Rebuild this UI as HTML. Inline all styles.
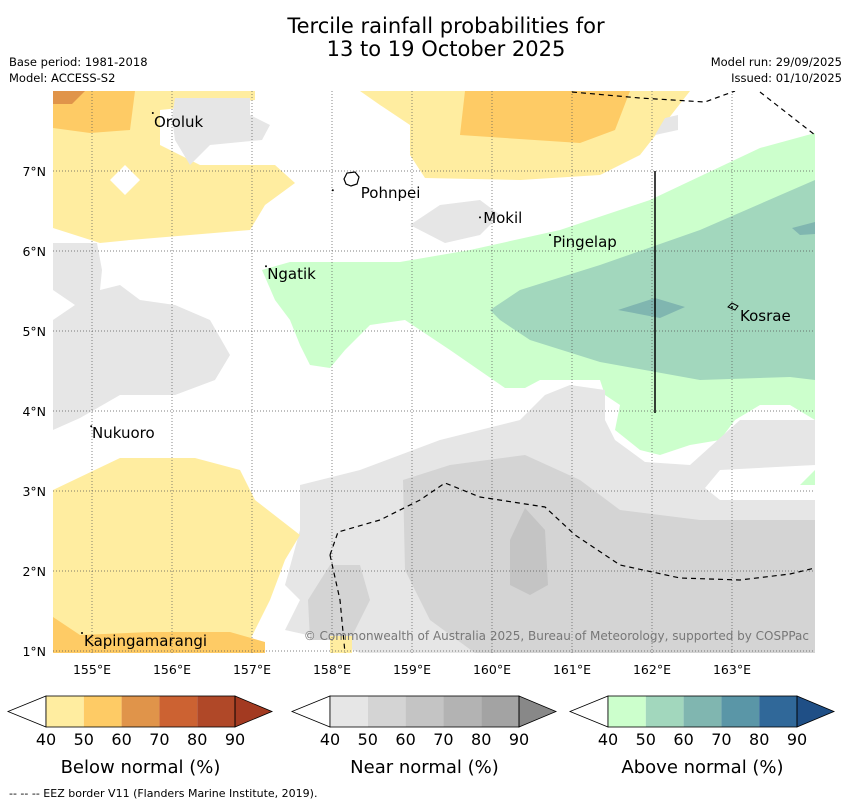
<!DOCTYPE html>
<html><head><meta charset="utf-8"><style>
body{margin:0;background:#fff;width:850px;height:804px;overflow:hidden;font-family:"Liberation Sans","DejaVu Sans",sans-serif}
svg{display:block}
</style></head><body>
<svg id="c" width="850" height="804" xmlns="http://www.w3.org/2000/svg" font-family="DejaVu Sans, Liberation Sans, sans-serif">
<text x="446" y="33" font-size="21" text-anchor="middle">Tercile rainfall probabilities for</text>
<text x="446" y="56" font-size="21" text-anchor="middle">13 to 19 October 2025</text>
<text x="9" y="66" font-size="11.5">Base period: 1981-2018</text>
<text x="9" y="82" font-size="11.5">Model: ACCESS-S2</text>
<text x="842" y="66" font-size="11.5" text-anchor="end">Model run: 29/09/2025</text>
<text x="842" y="82" font-size="11.5" text-anchor="end">Issued: 01/10/2025</text>
<defs><clipPath id="mc"><rect x="53" y="91" width="762" height="562"/></clipPath></defs>
<g id="map" clip-path="url(#mc)"></g>
<g id="over"></g>
<text x="809" y="640" font-size="12" fill="#777" text-anchor="end">© Commonwealth of Australia 2025, Bureau of Meteorology, supported by COSPPac</text>
<g id="axes"></g>
<g id="bars"></g>
<text x="9" y="797" font-size="11">--  --  -- EEZ border V11 (Flanders Marine Institute, 2019).</text>
</svg>
<script>
const NS="http://www.w3.org/2000/svg";
const lonTicks=[155,156,157,158,159,160,161,162,163];
const latTicks=[1,2,3,4,5,6,7];
const islandNames=["Oroluk","Pohnpei","Mokil","Pingelap","Ngatik","Kosrae","Nukuoro","Kapingamarangi"];
const islandLon=[155.76,158.01,159.85,160.725,157.175,163.0,154.99,154.875];
const islandLat=[7.725,6.76,6.42,6.2,5.81,5.3,3.81,1.225];
const islandLabelLon=[155.775,158.36,159.89,160.76,157.19,163.1,155.0,154.9];
const islandLabelLat=[7.55,6.66,6.35,6.05,5.65,5.125,3.66,1.06];
const belowLevels=[40,50,60,70,80,90];
const belowColors=["#fff","#ffeda0","#fecb65","#e0944a","#cc6232","#b04828","#a33a21"];
const nearColors=["#fff","#e6e6e6","#d4d4d4","#c4c4c4","#b3b3b3","#a3a3a3","#888"];
const aboveColors=["#fff","#ccffcc","#a2d7bd","#80b6b0","#5a96a7","#306899","#1f4f86"];
const X=lon=>92+(lon-155)*80, Y=lat=>171-(lat-7)*80;
function el(p,t,a){const e=document.createElementNS(NS,t);for(const k in a)e.setAttribute(k,a[k]);p.appendChild(e);return e;}
const map=document.getElementById('map');
const shapes=[
["below-50","#ffeda0","53,91 255,91 255,100 160,110 160,145 200,165 275,165 295,183 265,205 250,230 130,240 100,243 53,228"],
["below-60","#fecb65","53,91 135,91 130,130 90,133 53,128"],
["below-70","#e0944a","53,91 85,91 72,104 53,104"],
["white-diamond","#fff","110,180 125,165 140,180 125,195"],
["below-50-top","#ffeda0","360,91 690,91 640,155 600,175 520,180 425,178 410,155 410,125 380,105"],
["below-60-top","#fecb65","465,91 630,91 615,130 580,143 460,135"],
["near-oroluk","#e6e6e6","175,98 250,98 250,115 270,125 262,140 210,145 190,165 175,140 172,118"],
["near-mokil","#e6e6e6","410,225 440,205 480,200 500,215 480,235 445,243"],
["near-small","#e6e6e6","655,135 665,118 678,115 678,130"],
["above-50","#ccffcc","262,270 290,262 400,262 470,250 560,230 650,200 760,148 815,133 815,420 790,405 760,405 735,420 720,440 690,445 660,455 640,450 615,430 620,405 605,395 600,380 540,380 525,388 505,388 450,350 405,320 370,325 345,350 330,368 310,365 300,345 290,320 275,300"],
["above-60","#a2d7bd","490,310 520,290 600,265 700,230 815,180 815,380 790,377 700,380 600,362 530,340 500,320"],
["above-70a","#80b6b0","618,310 655,298 685,307 660,318"],
["above-70b","#80b6b0","792,228 815,222 815,234 800,235"],
["above-50-br","#ccffcc","800,485 815,470 815,485"],
["near-left","#e6e6e6","53,243 97,243 102,270 100,290 120,285 140,300 175,305 210,320 230,355 215,380 175,395 120,395 80,418 53,430 53,320 75,305 53,290"],
["near-big","#e6e6e6","300,485 360,470 440,440 520,420 545,395 570,385 605,390 605,420 615,440 645,462 690,465 740,420 815,420 815,465 720,470 705,488 720,500 815,500 815,653 360,653 330,640 285,630 300,600 285,585 300,530"],
["near-60","#d4d4d4","403,480 450,465 525,455 580,480 620,510 700,520 815,520 815,653 475,653 430,620 405,570"],
["near-70","#c4c4c4","510,540 525,508 545,530 548,585 530,595 510,585"],
["near-60-left","#d4d4d4","308,600 330,565 360,565 370,600 350,640 310,640"],
["below-50-bl","#ffeda0","53,490 120,458 195,458 240,470 255,500 300,535 285,560 270,600 250,640 230,653 53,653"],
["below-60-bl","#fecb65","53,617 80,635 150,632 230,632 265,642 265,653 53,653"],
["below-50-small","#ffeda0","330,636 352,636 352,653 330,653"]
];
shapes.forEach(s=>{const p=el(map,'polygon',{points:s[2],fill:s[1]});});
lonTicks.forEach(l=>{const g=el(map,'line',{x1:X(l),x2:X(l),y1:91,y2:653,stroke:'#555','stroke-width':0.7,'stroke-dasharray':'1,2'});});
latTicks.forEach(l=>{const g=el(map,'line',{x1:53,x2:815,y1:Y(l),y2:Y(l),stroke:'#555','stroke-width':0.7,'stroke-dasharray':'1,2'});});
["572,92 640,98 705,102 735,91","760,92 815,135","330,555 338,532 380,520 420,500 445,483 480,497 545,507 575,535 620,565 680,578 740,580 790,574 815,568","330,555 340,600 345,653"].forEach((p,i)=>{const e=el(map,'polyline',{points:p,fill:'none',stroke:'#000','stroke-width':1.2,'stroke-dasharray':'5,4'});});
const vl=el(map,'line',{x1:655,x2:655,y1:171,y2:413,stroke:'#000','stroke-width':1.5});

const over=document.getElementById('over');
islandNames.forEach((n,i)=>{
 const d=el(over,'circle',{cx:X(islandLon[i]),cy:Y(islandLat[i]),r:1,fill:'#000'});
 
 const t=el(over,'text',{x:X(islandLabelLon[i]),y:Y(islandLabelLat[i]),'font-size':15});
 t.textContent=n;
});
const ps=el(over,'path',{d:'M344,179 l3,-6 8,-1 4,5 -2,7 -6,2 -5,-2 z',fill:'none',stroke:'#000','stroke-width':1.2});

const ks=el(over,'path',{d:'M728,307 l4,-4 6,3 -3,4 z',fill:'none',stroke:'#000','stroke-width':1});

const ax=document.getElementById('axes');
lonTicks.forEach(l=>{const t=el(ax,'text',{x:X(l),y:674,'font-size':12.5,'text-anchor':'middle'});t.textContent=l+'°E';});
latTicks.forEach(l=>{const t=el(ax,'text',{x:46,y:Y(l)+5,'font-size':12.5,'text-anchor':'end'});t.textContent=l+'°N';});
const bars=document.getElementById('bars');
const cbs=[[8,belowColors,'Below normal (%)','below-colorbar'],[292,nearColors,'Near normal (%)','near-colorbar'],[570,aboveColors,'Above normal (%)','above-colorbar']];
cbs.forEach(([x0,cols,title,nm])=>{
 const g=el(bars,'g',{});
 const w=37.8,y0=696,y1=727,ym=711.5,bx=x0+38;
 el(g,'polygon',{points:`${x0},${ym} ${bx},${y0} ${bx},${y1}`,fill:cols[0],stroke:'#000','stroke-width':0.8});
 for(let i=0;i<5;i++)el(g,'rect',{x:bx+i*w,y:y0,width:w,height:y1-y0,fill:cols[i+1]});
 const ex=bx+5*w;
 el(g,'polygon',{points:`${ex},${y0} ${ex+37},${ym} ${ex},${y1}`,fill:cols[6],stroke:'#000','stroke-width':0.8});
 el(g,'rect',{x:bx,y:y0,width:5*w,height:y1-y0,fill:'none',stroke:'#000','stroke-width':0.8});
 belowLevels.forEach((v,i)=>{const t=el(g,'text',{x:bx+i*w,y:745,'font-size':16,'text-anchor':'middle'});t.textContent=v;});
 const t=el(g,'text',{x:bx+2.5*w,y:773,'font-size':18,'text-anchor':'middle'});t.textContent=title;
 
});
</script>
</body></html>
